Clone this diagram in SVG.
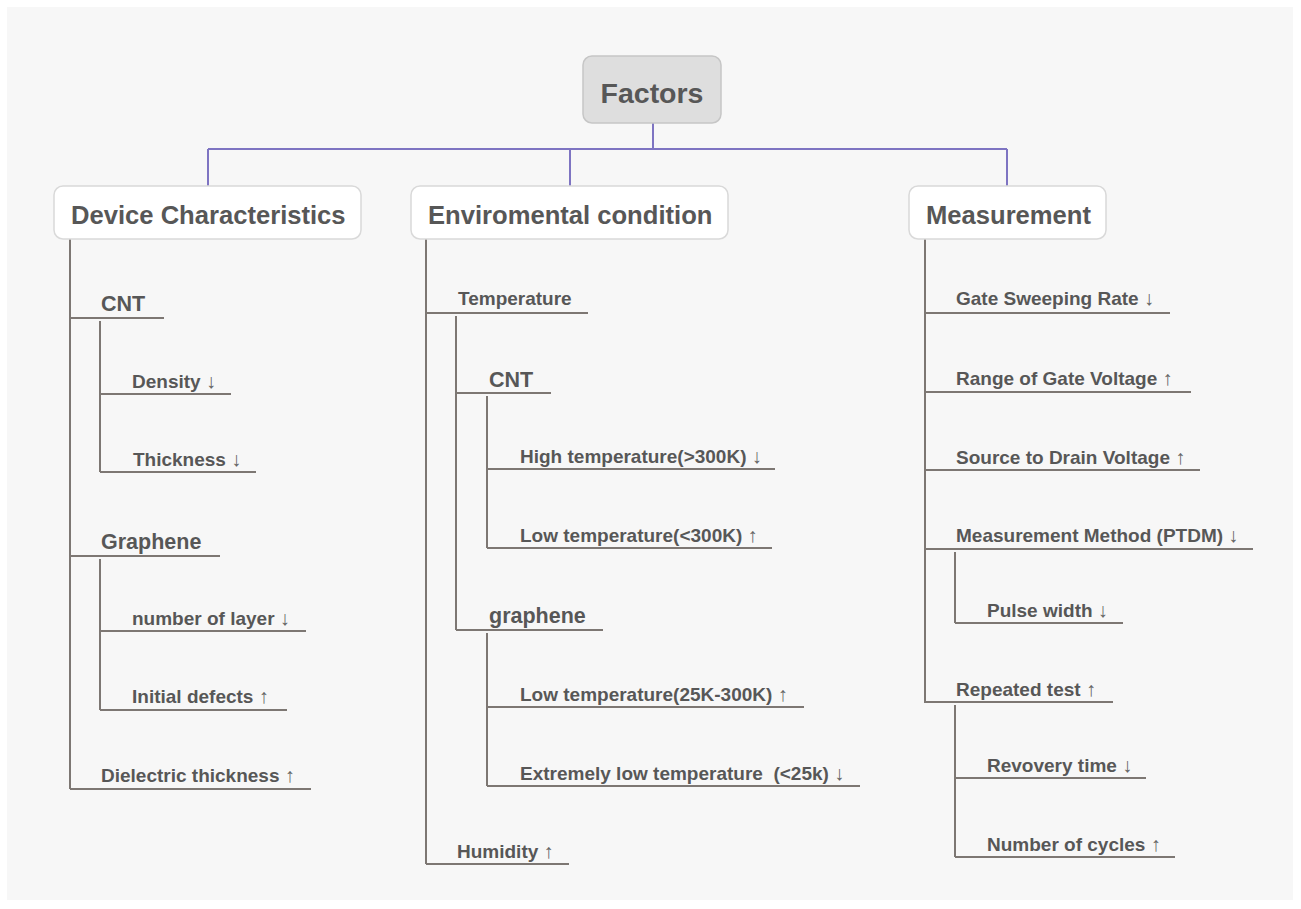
<svg xmlns="http://www.w3.org/2000/svg" width="1301" height="909" viewBox="0 0 1301 909">
<style>
text{font-family:"Liberation Sans",Arial,sans-serif;font-weight:bold;fill:#575757}
.t0{font-size:28.5px}
.t1{font-size:25.6px}
.t2{font-size:21.5px}
.t3{font-size:19px}
.ar{font-family:"Liberation Sans",Arial,sans-serif;font-weight:normal;font-size:20px;fill:#666666}
.box{fill:#ffffff;stroke:#d9d9d9;stroke-width:1.5}
.root{fill:#dedede;stroke:#c6c6c6;stroke-width:1.5}
.tree{stroke:#7d7773;stroke-width:2;fill:none}
.main{stroke:#7e74c2;stroke-width:2;fill:none}
</style>
<rect x="0" y="0" width="1301" height="909" fill="#ffffff"/>
<rect x="7" y="7" width="1286" height="893" fill="#f7f7f7"/>
<g id="connectors">
<path class="main" d="M653 123V149M208 149H1007M208 149V186M570 149V186M1007 149V186"/>
<path class="tree" d="M70 239V789M70 318H164M100 321V472M100 394H231M100 472H256M70 556H220M100 559V710M100 631H306M100 710H287M70 789H311"/>
<path class="tree" d="M426 239V864M426 313H588M456 316V630M456 393H551M487 396V548M487 469H775M487 548H772M456 630H603M487 633V786M487 707H804M487 786H860M426 864H569"/>
<path class="tree" d="M925 239V703M925 313H1170M925 392H1191M925 470H1200M925 549H1253M955 552V623M955 623H1123M925 702H1113M955 705V857M955 778H1146M955 857H1175"/>
</g>
<g id="factors"><rect class="root" x="583" y="56" width="138" height="67" rx="9"/><text class="t0" x="652" y="103" text-anchor="middle">Factors</text></g>
<g id="device"><rect class="box" x="54" y="186" width="307" height="53" rx="9"/><text class="t1" x="71" y="224">Device Characteristics</text></g>
<g id="env"><rect class="box" x="411" y="186" width="317" height="53" rx="9"/><text class="t1" x="428" y="224">Enviromental condition</text></g>
<g id="meas"><rect class="box" x="909" y="186" width="197" height="53" rx="9"/><text class="t1" x="926" y="224">Measurement</text></g>
<g id="dev-cnt"><text class="t2" x="101" y="311">CNT</text></g>
<g id="dev-density"><text class="t3" x="132" y="388">Density <tspan class="ar">↓</tspan></text></g>
<g id="dev-thickness"><text class="t3" x="133" y="466">Thickness <tspan class="ar">↓</tspan></text></g>
<g id="dev-graphene"><text class="t2" x="101" y="549">Graphene</text></g>
<g id="dev-layer"><text class="t3" x="132" y="625">number of layer <tspan class="ar">↓</tspan></text></g>
<g id="dev-defects"><text class="t3" x="132" y="703">Initial defects <tspan class="ar">↑</tspan></text></g>
<g id="dev-dielectric"><text class="t3" x="101" y="782">Dielectric thickness <tspan class="ar">↑</tspan></text></g>
<g id="env-temp"><text class="t3" x="458" y="305">Temperature</text></g>
<g id="env-cnt"><text class="t2" x="489" y="387">CNT</text></g>
<g id="env-high"><text class="t3" x="520" y="463">High temperature(&gt;300K) <tspan class="ar">↓</tspan></text></g>
<g id="env-low"><text class="t3" x="520" y="542">Low temperature(&lt;300K) <tspan class="ar">↑</tspan></text></g>
<g id="env-graphene"><text class="t2" x="489" y="623">graphene</text></g>
<g id="env-low2"><text class="t3" x="520" y="701">Low temperature(25K-300K) <tspan class="ar">↑</tspan></text></g>
<g id="env-ext"><text class="t3" x="520" y="780" xml:space="preserve">Extremely low temperature  (&lt;25k) <tspan class="ar">↓</tspan></text></g>
<g id="env-hum"><text class="t3" x="457" y="858">Humidity <tspan class="ar">↑</tspan></text></g>
<g id="m-gate"><text class="t3" x="956" y="305">Gate Sweeping Rate <tspan class="ar">↓</tspan></text></g>
<g id="m-range"><text class="t3" x="956" y="385">Range of Gate Voltage <tspan class="ar">↑</tspan></text></g>
<g id="m-sd"><text class="t3" x="956" y="464">Source to Drain Voltage <tspan class="ar">↑</tspan></text></g>
<g id="m-ptdm"><text class="t3" x="956" y="542">Measurement Method (PTDM) <tspan class="ar">↓</tspan></text></g>
<g id="m-pulse"><text class="t3" x="987" y="617">Pulse width <tspan class="ar">↓</tspan></text></g>
<g id="m-rep"><text class="t3" x="956" y="696">Repeated test <tspan class="ar">↑</tspan></text></g>
<g id="m-rec"><text class="t3" x="987" y="772">Revovery time <tspan class="ar">↓</tspan></text></g>
<g id="m-cyc"><text class="t3" x="987" y="851">Number of cycles <tspan class="ar">↑</tspan></text></g>
</svg>
